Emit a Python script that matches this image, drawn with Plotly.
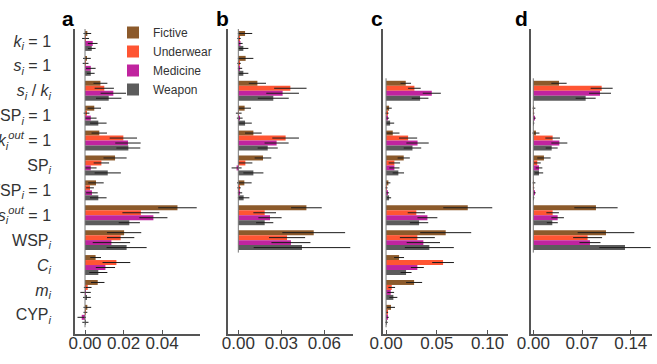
import plotly.graph_objects as go

W, H = 657, 364

categories = [
    "<i>k</i><sub><i>i</i></sub> = 1",
    "<i>s</i><sub><i>i</i></sub> = 1",
    "<i>s</i><sub><i>i</i></sub> / <i>k</i><sub><i>i</i></sub>",
    "SP<sub><i>i</i></sub> = 1",
    "<i>k</i><sub><i>i</i></sub><sup><i>out</i></sup> = 1",
    "SP<sub><i>i</i></sub>",
    "WSP<sub><i>i</i></sub> = 1",
    "<i>s</i><sub><i>i</i></sub><sup><i>out</i></sup> = 1",
    "WSP<sub><i>i</i></sub>",
    "<i>C</i><sub><i>i</i></sub>",
    "<i>m</i><sub><i>i</i></sub>",
    "CYP<sub><i>i</i></sub>",
]
series_names = ["Fictive", "Underwear", "Medicine", "Weapon"]
series_colors = ["#8C5A2B", "#FF5533", "#C0249F", "#5C5C5C"]
panel_letters = ["a", "b", "c", "d"]

# ---- panel a ----
a_fictive = [0.0012, 0.0010, 0.0080, 0.0048, 0.0074, 0.0156, 0.0057, 0.0480, 0.0203, 0.0055, 0.0066, 0.0012]
a_fictive_err = [0.0020, 0.0020, 0.0036, 0.0035, 0.0040, 0.0060, 0.0040, 0.0100, 0.0089, 0.0028, 0.0035, 0.0020]
a_underwear = [0.0003, 0.0003, 0.0100, 0.0008, 0.0199, 0.0085, 0.0026, 0.0290, 0.0185, 0.0163, 0.0014, 0.0002]
a_underwear_err = [0.0018, 0.0015, 0.0050, 0.0015, 0.0071, 0.0040, 0.0020, 0.0096, 0.0071, 0.0072, 0.0020, 0.0010]
a_medicine = [0.0040, 0.0030, 0.0147, 0.0030, 0.0223, 0.0030, 0.0036, 0.0355, 0.0137, 0.0106, 0.0003, -0.0017]
a_medicine_err = [0.0025, 0.0025, 0.0066, 0.0030, 0.0066, 0.0030, 0.0030, 0.0073, 0.0097, 0.0050, 0.0027, 0.0022]
a_weapon = [0.0035, 0.0030, 0.0123, 0.0069, 0.0225, 0.0118, 0.0069, 0.0230, 0.0216, 0.0069, 0.0010, 0.0002]
a_weapon_err = [0.0020, 0.0020, 0.0066, 0.0043, 0.0062, 0.0068, 0.0043, 0.0055, 0.0104, 0.0047, 0.0020, 0.0016]

# ---- panel b ----
b_fictive = [0.0047, 0.0051, 0.0133, 0.0044, 0.0105, 0.0172, 0.0042, 0.0475, 0.0526, None, None, None]
b_fictive_err = [0.0050, 0.0054, 0.0060, 0.0044, 0.0058, 0.0058, 0.0051, 0.0107, 0.0219, None, None, None]
b_underwear = [0.0005, 0.0005, 0.0363, 0.0003, 0.0330, 0.0049, 0.0005, 0.0184, 0.0340, None, None, None]
b_underwear_err = [0.0012, 0.0012, 0.0113, 0.0020, 0.0093, 0.0049, 0.0012, 0.0079, 0.0126, None, None, None]
b_medicine = [0.0015, 0.0012, 0.0309, 0.0010, 0.0267, -0.0012, 0.0012, 0.0221, 0.0367, None, None, None]
b_medicine_err = [0.0015, 0.0015, 0.0114, 0.0020, 0.0084, 0.0035, 0.0015, 0.0081, 0.0136, None, None, None]
b_weapon = [0.0035, 0.0035, 0.0244, 0.0047, 0.0205, 0.0105, 0.0037, 0.0184, 0.0444, None, None, None]
b_weapon_err = [0.0035, 0.0035, 0.0108, 0.0047, 0.0070, 0.0070, 0.0040, 0.0060, 0.0337, None, None, None]

# ---- panel c ----
c_fictive = [None, None, 0.0194, 0.0030, 0.0066, 0.0174, 0.0023, 0.0804, 0.0587, 0.0128, 0.0276, 0.0049]
c_fictive_err = [None, None, 0.0052, 0.0026, 0.0066, 0.0060, 0.0020, 0.0241, 0.0251, 0.0049, 0.0079, 0.0039]
c_underwear = [None, None, 0.0279, 0.0010, 0.0217, 0.0082, 0.0005, 0.0298, 0.0308, 0.0561, 0.0056, 0.0010]
c_underwear_err = [None, None, 0.0062, 0.0015, 0.0089, 0.0056, 0.0010, 0.0085, 0.0172, 0.0107, 0.0033, 0.0010]
c_medicine = [None, None, 0.0450, 0.0015, 0.0310, 0.0082, 0.0015, 0.0407, 0.0367, 0.0308, 0.0046, 0.0015]
c_medicine_err = [None, None, 0.0089, 0.0015, 0.0110, 0.0050, 0.0015, 0.0098, 0.0164, 0.0064, 0.0033, 0.0012]
c_weapon = [None, None, 0.0335, 0.0040, 0.0260, 0.0121, 0.0030, 0.0325, 0.0426, 0.0197, 0.0072, 0.0005]
c_weapon_err = [None, None, 0.0082, 0.0040, 0.0086, 0.0056, 0.0020, 0.0090, 0.0241, 0.0054, 0.0039, 0.0012]

# ---- panel d ----
d_fictive = [None, None, 0.0369, 0.0010, 0.0038, 0.0153, 0.0010, 0.0900, 0.1044, None, None, None]
d_fictive_err = [None, None, 0.0110, 0.0020, 0.0050, 0.0096, 0.0020, 0.0311, 0.0407, None, None, None]
d_underwear = [None, None, 0.0982, 0.0005, 0.0278, 0.0057, 0.0005, 0.0278, 0.0780, None, None, None]
d_underwear_err = [None, None, 0.0158, 0.0010, 0.0105, 0.0050, 0.0010, 0.0090, 0.0208, None, None, None]
d_medicine = [None, None, 0.0958, 0.0020, 0.0374, 0.0082, 0.0020, 0.0350, 0.0814, None, None, None]
d_medicine_err = [None, None, 0.0158, 0.0015, 0.0115, 0.0048, 0.0015, 0.0090, 0.0151, None, None, None]
d_weapon = [None, None, 0.0752, 0.0005, 0.0264, 0.0082, 0.0005, 0.0273, 0.1317, None, None, None]
d_weapon_err = [None, None, 0.0144, 0.0010, 0.0086, 0.0060, 0.0010, 0.0079, 0.0369, None, None, None]

a_ticks = [0.0, 0.02, 0.04]
b_ticks = [0.0, 0.03, 0.06]
c_ticks = [0.0, 0.05, 0.10]
d_ticks = [0.0, 0.07, 0.14]
x_ranges = [[-0.0052, 0.0597], [-0.0072, 0.080], [-0.003, 0.120], [-0.0033, 0.1705]]

panels = [
    ([a_fictive, a_underwear, a_medicine, a_weapon], [a_fictive_err, a_underwear_err, a_medicine_err, a_weapon_err], a_ticks),
    ([b_fictive, b_underwear, b_medicine, b_weapon], [b_fictive_err, b_underwear_err, b_medicine_err, b_weapon_err], b_ticks),
    ([c_fictive, c_underwear, c_medicine, c_weapon], [c_fictive_err, c_underwear_err, c_medicine_err, c_weapon_err], c_ticks),
    ([d_fictive, d_underwear, d_medicine, d_weapon], [d_fictive_err, d_underwear_err, d_medicine_err, d_weapon_err], d_ticks),
]

# layout geometry (pixels)
x_px = [(75, 200), (228, 353), (383, 508), (531, 652)]
y_top, y_bot = 29, 334
y_domain = [1 - y_bot / H, 1 - y_top / H]
label_px = [(68, 18), (222, 18), (377, 18), (521, 18)]

fig = go.Figure()
positions = list(range(len(categories)))
font_family = "Liberation Sans, Arial, sans-serif"

for p, (vals, errs, ticks) in enumerate(panels):
    sfx = "" if p == 0 else str(p + 1)
    for s, name in enumerate(series_names):
        fig.add_trace(go.Bar(
            x=vals[s], y=positions, orientation="h", name=name,
            marker=dict(color=series_colors[s], line=dict(width=0)),
            error_x=dict(type="data", array=errs[s], visible=True,
                         color="#1a1a1a", thickness=1, width=0),
            xaxis="x" + sfx, yaxis="y" + sfx,
            showlegend=(p == 0), legendgroup=name,
        ))
    # zero line spanning the categories that have data
    present = [i for i in positions if any(v[i] is not None for v in vals)]
    fig.add_shape(type="line", xref="x" + sfx, yref="y" + sfx,
                  x0=0, x1=0, y0=min(present) - 0.5, y1=max(present) + 0.5,
                  line=dict(color="#777777", width=1), layer="above")
    x0, x1 = x_px[p]
    fig.layout["xaxis" + sfx] = dict(
        domain=[x0 / W, x1 / W], anchor="y" + sfx, range=x_ranges[p],
        tickvals=ticks, ticktext=[f"{t:.2f}" for t in ticks], tickangle=0,
        showline=True, linecolor="#555555", linewidth=1.5,
        ticks="inside", ticklen=4, tickcolor="#555555",
        showgrid=False, zeroline=False, ticklabelstandoff=-7,
        tickfont=dict(size=17, color="#333333", family=font_family),
        automargin=False,
    )
    fig.layout["yaxis" + sfx] = dict(
        domain=y_domain, anchor="x" + sfx, range=[11.77, -0.48],
        tickvals=positions, ticktext=categories, showticklabels=(p == 0),
        showline=True, linecolor="#555555", linewidth=1.5, ticks="",
        showgrid=False, zeroline=False, ticklabelstandoff=19,
        tickfont=dict(size=16, color="#333333", family=font_family),
        automargin=False,
    )
    lx, ly = label_px[p]
    fig.add_annotation(text="<b>" + panel_letters[p] + "</b>", x=lx / W, y=1 - ly / H,
                       xref="paper", yref="paper", showarrow=False,
                       xanchor="center", yanchor="middle",
                       font=dict(size=21, color="#000000", family=font_family))

fig.update_layout(
    width=W, height=H, margin=dict(l=0, r=0, t=0, b=0),
    paper_bgcolor="white", plot_bgcolor="white",
    barmode="group", bargap=0.2, bargroupgap=0,
    font=dict(family=font_family),
    legend=dict(x=113 / W, y=1 - 18 / H, xanchor="left", yanchor="top",
                bgcolor="rgba(0,0,0,0)", font=dict(size=12, color="#333333"),
                traceorder="normal"),
)

fig.write_html("out.html")
